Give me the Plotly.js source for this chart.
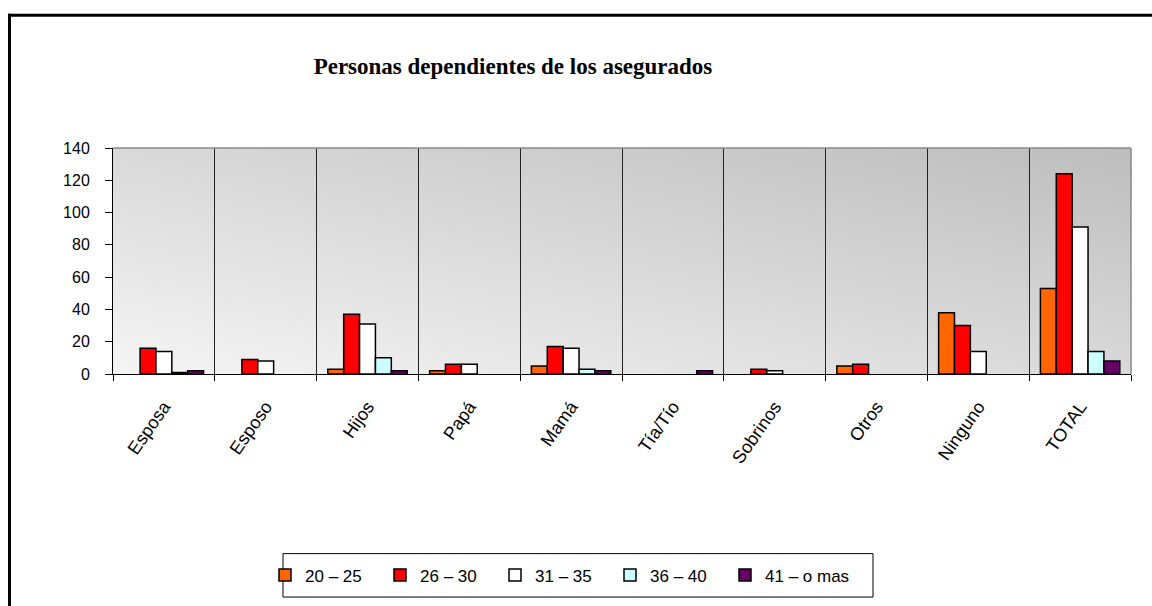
<!DOCTYPE html>
<html>
<head>
<meta charset="utf-8">
<script src="https://cdn.plot.ly/plotly-3.0.1.min.js"></script>
<style>
  html, body { margin: 0; padding: 0; background: #fff; overflow: hidden; width: 1152px; height: 606px; }
  #chart { width: 1152px; height: 606px; position: absolute; left: 0; top: 0; }
</style>
</head>
<body>
<div id="chart"></div>
<script>
// ---- Data ----
const categories = ["Esposa", "Esposo", "Hijos", "Papá", "Mamá", "Tía/Tío", "Sobrinos", "Otros", "Ninguno", "TOTAL"];
const seriesNames = ["20 – 25", "26 – 30", "31 – 35", "36 – 40", "41 – o mas"];
const age20_25 = [0, 0, 3, 2, 5, 0, 0, 5, 38, 53];
const age26_30 = [16, 9, 37, 6, 17, 0, 3, 6, 30, 124];
const age31_35 = [14, 8, 31, 6, 16, 0, 2, 0, 14, 91];
const age36_40 = [1, 0, 10, 0, 3, 0, 0, 0, 0, 14];
const age41_mas = [2, 0, 2, 0, 2, 2, 0, 0, 0, 8];
const yTicks = [0, 20, 40, 60, 80, 100, 120, 140];

const seriesValues = [age20_25, age26_30, age31_35, age36_40, age41_mas];
const seriesColors = ["#FF6600", "#FF0000", "#FFFFFF", "#CCFFFF", "#660066"];

// Zero values are not drawn (as in the reference), so they become gaps.
const traces = seriesValues.map((vals, i) => ({
  type: "bar",
  name: seriesNames[i],
  x: categories,
  y: vals.map(v => (v === 0 ? null : v)),
  marker: { color: seriesColors[i], line: { color: "#000", width: 1.5 } },
  legendwidth: i < seriesValues.length - 1 ? 70 : 120,
  hoverinfo: "x+y+name"
}));

const gradSvg =
  "<svg xmlns='http://www.w3.org/2000/svg' width='100' height='100' viewBox='0 0 100 100' preserveAspectRatio='none'>" +
  "<defs><linearGradient id='g' x1='0' y1='1' x2='1' y2='0'>" +
  "<stop offset='0' stop-color='#f5f5f5'/><stop offset='1' stop-color='#bdbdbd'/>" +
  "</linearGradient></defs><rect width='100' height='100' fill='url(#g)'/></svg>";

// plot area in pixels (for converting decoration positions to paper units)
const PL = 113, PW = 1018, PB = 377, PH = 229;
const px = v => (v - PL) / PW;
const py = v => (PB - v) / PH;

const layout = {
  width: 1152,
  height: 606,
  margin: { l: 113, r: 21, t: 148, b: 229, pad: 0 },
  paper_bgcolor: "#ffffff",
  plot_bgcolor: "rgba(0,0,0,0)",
  font: { family: "Liberation Sans, Arial, sans-serif", color: "#000" },
  title: {
    text: "<b>Personas dependientes de los asegurados</b>",
    font: { family: "Liberation Serif, Times New Roman, serif", size: 23, color: "#000" },
    xref: "container", x: 0.4453, xanchor: "center",
    yref: "container", y: 0.891, yanchor: "middle"
  },
  barmode: "group",
  bargap: 0.22,
  bargroupgap: 0,
  xaxis: {
    type: "category",
    tickson: "boundaries",
    ticks: "outside",
    ticklen: 6,
    tickcolor: "#000",
    showgrid: true,
    gridcolor: "#222",
    gridwidth: 1,
    showline: true,
    linecolor: "#000",
    linewidth: 1,
    tickangle: -55,
    ticklabelstandoff: 14,
    tickfont: { size: 18, family: "Liberation Sans, Arial, sans-serif", color: "#000" },
    fixedrange: true
  },
  yaxis: {
    range: [0, 140],
    tickvals: yTicks,
    ticks: "outside",
    ticklen: 7,
    tickcolor: "#000",
    showgrid: false,
    zeroline: false,
    showline: true,
    linecolor: "#000",
    linewidth: 1,
    ticklabelstandoff: 12,
    tickfont: { size: 16, family: "Liberation Sans, Arial, sans-serif", color: "#000" },
    fixedrange: true
  },
  images: [{
    source: "data:image/svg+xml;charset=utf-8," + encodeURIComponent(gradSvg),
    xref: "paper", yref: "paper",
    x: 0, y: 1, sizex: 1, sizey: 1,
    xanchor: "left", yanchor: "top",
    sizing: "stretch", layer: "below"
  }],
  shapes: [
    // plot area top/right border
    { type: "line", xref: "paper", yref: "paper", x0: 0, x1: 1, y0: 1, y1: 1,
      line: { color: "#888", width: 1.5 } },
    { type: "line", xref: "paper", yref: "paper", x0: 1, x1: 1, y0: 0, y1: 1,
      line: { color: "#888", width: 1.5 } },
    // legend box
    { type: "rect", xref: "paper", yref: "paper",
      x0: px(283), x1: px(873), y0: py(603), y1: py(559),
      line: { color: "#000", width: 1 }, fillcolor: "rgba(0,0,0,0)" },
    // outer chart frame (left and top edges visible)
    { type: "line", xref: "paper", yref: "paper", x0: px(9.5), x1: px(9.5), y0: py(12), y1: py(640),
      line: { color: "#000", width: 3 } },
    { type: "line", xref: "paper", yref: "paper", x0: px(8), x1: px(1200), y0: py(13.5), y1: py(13.5),
      line: { color: "#000", width: 3 } }
  ],
  showlegend: true,
  legend: {
    orientation: "h",
    x: (265 - 113) / 1018, xanchor: "left",
    y: (377 - 581) / 229, yanchor: "middle",
    font: { size: 17, family: "Liberation Sans, Arial, sans-serif", color: "#000" },
    bgcolor: "rgba(0,0,0,0)",
    borderwidth: 0,
    entrywidthmode: "pixels",
    itemwidth: 30,
    traceorder: "normal"
  }
};

Plotly.newPlot("chart", traces, layout, { displayModeBar: false, staticPlot: true });
</script>
</body>
</html>
